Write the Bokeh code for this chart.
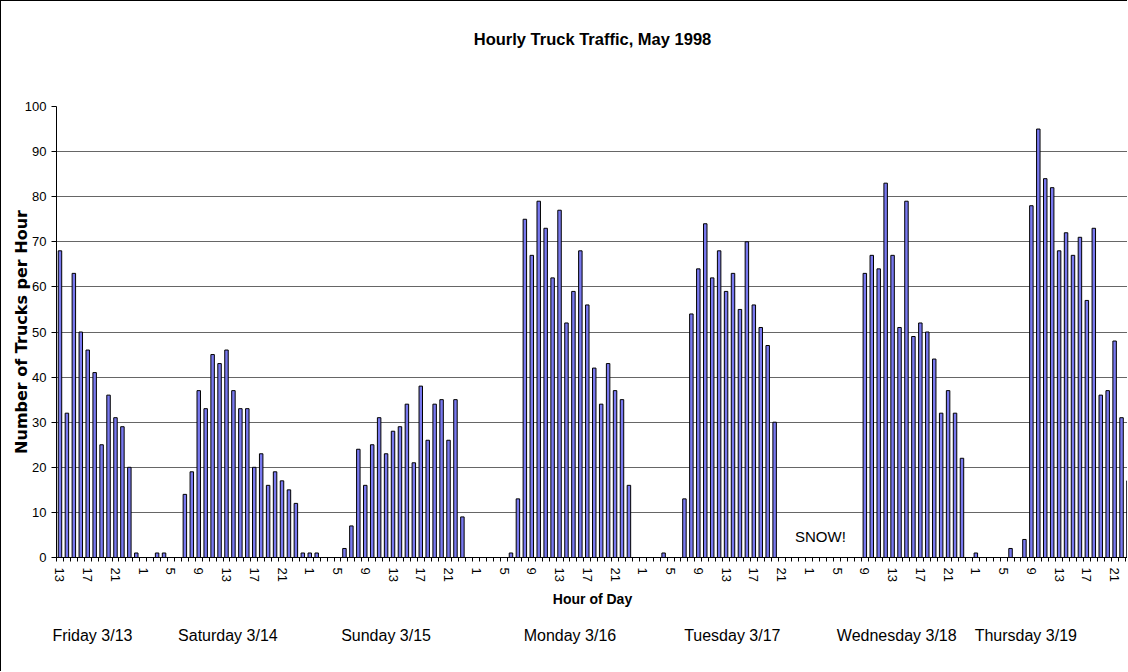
from bokeh.plotting import figure
from bokeh.models import ColumnDataSource, FixedTicker, LinearAxis, Range1d, Grid, Label
from bokeh.embed import file_html
from bokeh.resources import INLINE

# ---------------- data ----------------
title_text = "Hourly Truck Traffic, May 1998"
y_title = "Number of Trucks per Hour"
x_title = "Hour of Day"
day_names = ["Friday  3/13", "Saturday 3/14", "Sunday 3/15", "Monday 3/16",
             "Tuesday 3/17", "Wednesday 3/18", "Thursday 3/19"]
first_day_hours = list(range(13, 24))
full_day_hours = list(range(0, 24))

fri = [68, 32, 63, 50, 46, 41, 25, 36, 31, 29, 20]
sat = [1, 0, 0, 1, 1, 0, 0, 14, 19, 37, 33, 45, 43, 46, 37, 33, 33, 20, 23, 16, 19, 17, 15, 12]
sun = [1, 1, 1, 0, 0, 0, 2, 7, 24, 16, 25, 31, 23, 28, 29, 34, 21, 38, 26, 34, 35, 26, 35, 9]
mon = [0, 0, 0, 0, 0, 0, 1, 13, 75, 67, 79, 73, 62, 77, 52, 59, 68, 56, 42, 34, 43, 37, 35, 16]
tue = [0, 0, 0, 0, 1, 0, 0, 13, 54, 64, 74, 62, 68, 59, 63, 55, 70, 56, 51, 47, 30, 0, 0, 0]
wed = [0, 0, 0, 0, 0, 0, 0, 0, 0, 63, 67, 64, 83, 67, 51, 79, 49, 52, 50, 44, 32, 37, 32, 22]
thu = [0, 1, 0, 0, 0, 0, 2, 0, 4, 78, 95, 84, 82, 68, 72, 67, 71, 57, 73, 36, 37, 48, 31, 17]
y_ticks = [0, 10, 20, 30, 40, 50, 60, 70, 80, 90, 100]
note_text = "SNOW!"

# ---------------- layout constants ----------------
day_label_pos = [5.0, 24.2, 47.0, 73.5, 96.9, 120.6, 139.2]
note_pos = (109.6, 4.6)
FONT = "Liberation Sans"

hour_of_day = first_day_hours + full_day_hours * 6
trucks = fri + sat + sun + mon + tue + wed + thu
idx = list(range(len(trucks)))
src = ColumnDataSource(dict(idx=idx, trucks=trucks))

p = figure(width=1127, height=671, output_backend="svg", toolbar_location=None,
           x_range=Range1d(-0.5, 154.0), y_range=Range1d(0, 100),
           x_axis_type=None, y_axis_type=None,
           min_border_left=55, min_border_right=0, min_border_top=105, min_border_bottom=115,
           background_fill_color="white", border_fill_color="white",
           outline_line_color=None)
p.styles = {"border-left": "1px solid black", "border-top": "1px solid black"}

grid = Grid(dimension=1, ticker=FixedTicker(ticks=y_ticks),
            grid_line_color="#666666", grid_line_width=1)
p.add_layout(grid)

p.vbar(x="idx", top="trucks", width=0.5, bottom=0, source=src,
       fill_color="#7878ee", line_color="black", line_width=1)

# y axis
yaxis = LinearAxis(ticker=FixedTicker(ticks=y_ticks), axis_label=y_title)
yaxis.axis_line_color = "black"
yaxis.major_tick_in = 0
yaxis.major_tick_out = 5
yaxis.minor_tick_line_color = None
yaxis.major_label_standoff = 5
yaxis.major_label_text_font = FONT
yaxis.major_label_text_font_size = "13px"
yaxis.major_label_text_color = "black"
yaxis.axis_label_text_font = "DejaVu Sans"
yaxis.axis_label_text_font_style = "bold"
yaxis.axis_label_text_font_size = "16px"
yaxis.axis_label_text_color = "black"
yaxis.axis_label_standoff = -9
p.add_layout(yaxis, "left")

# x axis (hours)
label_pos = idx[::4]
xaxis = LinearAxis(ticker=FixedTicker(ticks=label_pos,
                                      minor_ticks=[i - 0.5 for i in range(len(idx) + 1)]),
                   axis_label=x_title)
xaxis.major_label_overrides = {i: str(hour_of_day[i]) for i in label_pos}
xaxis.major_label_orientation = "vertical"
xaxis.axis_line_color = "black"
xaxis.major_tick_line_color = None
xaxis.major_tick_in = 0
xaxis.major_tick_out = 4
xaxis.minor_tick_line_color = "black"
xaxis.minor_tick_in = 0
xaxis.minor_tick_out = 4
xaxis.major_label_standoff = 6
xaxis.major_label_text_font = FONT
xaxis.major_label_text_font_size = "13px"
xaxis.major_label_text_color = "black"
xaxis.axis_label_text_font = FONT
xaxis.axis_label_text_font_style = "bold"
xaxis.axis_label_text_font_size = "14px"
xaxis.axis_label_text_color = "black"
xaxis.axis_label_standoff = 6
p.add_layout(xaxis, "below")

# day names axis
daxis = LinearAxis(ticker=FixedTicker(ticks=day_label_pos))
daxis.major_label_overrides = {pos: name for pos, name in zip(day_label_pos, day_names)}
daxis.axis_line_color = None
daxis.major_tick_line_color = None
daxis.minor_tick_line_color = None
daxis.major_tick_in = 0
daxis.major_tick_out = 0
daxis.major_label_standoff = 17
daxis.major_label_text_font = FONT
daxis.major_label_text_font_size = "16px"
daxis.major_label_text_color = "black"
p.add_layout(daxis, "below")

# title as an axis label above
taxis = LinearAxis(ticker=FixedTicker(ticks=[]), axis_label=title_text)
taxis.axis_line_color = None
taxis.major_tick_line_color = None
taxis.minor_tick_line_color = None
taxis.major_tick_in = 0
taxis.major_tick_out = 0
taxis.major_label_standoff = 0
taxis.axis_label_text_font = FONT
taxis.axis_label_text_font_style = "bold"
taxis.axis_label_text_font_size = "16.5px"
taxis.axis_label_text_color = "black"
taxis.axis_label_standoff = 59
p.add_layout(taxis, "above")

p.add_layout(Label(x=note_pos[0], y=note_pos[1], text=note_text, text_font=FONT,
                   text_font_size="15px", text_align="center", text_baseline="middle",
                   text_color="black"))

open("out.html", "w").write(file_html(p, INLINE))
